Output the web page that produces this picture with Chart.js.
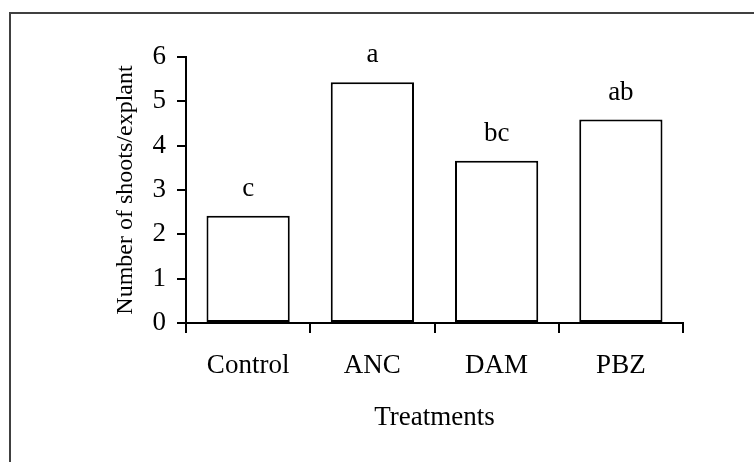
<!DOCTYPE html>
<html>
<head>
<meta charset="utf-8">
<script src="https://cdn.jsdelivr.net/npm/chart.js@4/dist/chart.umd.min.js"></script>
<style>
  html, body { margin: 0; padding: 0; background: #fff; }
  #wrap { position: relative; width: 754px; height: 462px; overflow: hidden; }
  #frame {
    position: absolute; left: 9px; top: 12px; width: 800px; height: 500px;
    border-left: 2px solid #404040; border-top: 2px solid #404040;
  }
  canvas { position: absolute; left: 0; top: 0; }
</style>
</head>
<body>
<div id="wrap">
  <div id="frame"></div>
  <canvas id="chart" width="754" height="462"></canvas>
</div>
<script>
const treatments = ["Control", "ANC", "DAM", "PBZ"];
const shootsPerExplant = [2.42, 5.43, 3.66, 4.59];
const groupLetters = ["c", "a", "bc", "ab"];
const yTicks = [0, 1, 2, 3, 4, 5, 6];

const serif = "'Liberation Serif', 'Times New Roman', serif";

// significance letters above each bar
const letterPlugin = {
  id: "letters",
  afterDatasetsDraw(chart) {
    const { ctx } = chart;
    const meta = chart.getDatasetMeta(0);
    ctx.save();
    ctx.font = "27px " + serif;
    ctx.fillStyle = "#000";
    ctx.textAlign = "center";
    ctx.textBaseline = "alphabetic";
    meta.data.forEach((bar, i) => {
      ctx.fillText(groupLetters[i], bar.x, bar.y - 20);
    });
    ctx.restore();
  },
};

new Chart(document.getElementById("chart"), {
  type: "bar",
  data: {
    labels: treatments,
    datasets: [{
      data: shootsPerExplant,
      backgroundColor: "#fff",
      borderColor: "#000",
      borderWidth: 2,
      borderSkipped: false,
      barPercentage: 0.67,
      categoryPercentage: 1,
    }],
  },
  options: {
    responsive: false,
    animation: false,
    layout: { padding: { top: 57, right: 71, bottom: 28, left: 0 } },
    plugins: { legend: { display: false }, tooltip: { enabled: false } },
    scales: {
      x: {
        afterFit(scale) { scale.height = 111; },
        grid: {
          offset: true, drawOnChartArea: false, drawTicks: true,
          tickLength: 10, color: "#000", lineWidth: 2,
        },
        border: { display: true, color: "#000", width: 2 },
        ticks: { color: "#000", padding: 17, font: { family: serif, size: 27 } },
        title: {
          display: true, text: "Treatments", color: "#000",
          font: { family: serif, size: 27 }, padding: { top: 0, bottom: 0 },
        },
      },
      y: {
        min: 0, max: 6,
        afterFit(scale) { scale.width = 186; },
        afterBuildTicks(scale) { scale.ticks = yTicks.map(v => ({ value: v })); },
        grid: {
          drawOnChartArea: false, drawTicks: true,
          tickLength: 9, color: "#000", lineWidth: 2,
        },
        border: { display: true, color: "#000", width: 2 },
        ticks: { color: "#000", padding: 11, font: { family: serif, size: 27 } },
        title: {
          display: true, text: "Number of shoots/explant", color: "#000",
          font: { family: serif, size: 24 }, padding: { top: 111, bottom: 0 },
        },
      },
    },
  },
  plugins: [letterPlugin],
});
</script>
</body>
</html>
